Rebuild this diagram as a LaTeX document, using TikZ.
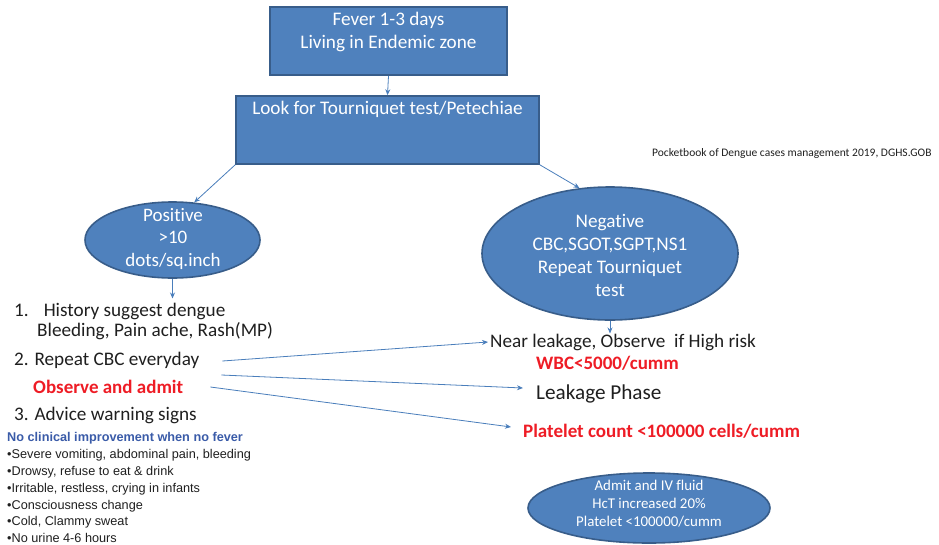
\documentclass[tikz,border=0pt]{standalone}
\usepackage{fontspec}
\setmainfont{Carlito}[Ligatures=NoCommon]
\newfontfamily\arialfont{Liberation Sans}
\usetikzlibrary{arrows.meta,shapes.geometric}
\definecolor{boxfill}{HTML}{4F81BD}
\definecolor{boxline}{HTML}{385D8A}
\definecolor{arrowblue}{HTML}{4A7EBB}
\definecolor{alertred}{HTML}{EE1C25}
\definecolor{noteblue}{HTML}{3A5BA8}
\definecolor{ink}{HTML}{1F1F1F}
\begin{document}
\begin{tikzpicture}[x=1pt,y=-1pt,
  box/.style={draw=boxline, line width=1.6pt, fill=boxfill, inner sep=0},
  oval/.style={ellipse, draw=boxline, line width=1.6pt, fill=boxfill, inner sep=0},
  wtext/.style={text=white, align=center, inner sep=0},
  ltext/.style={text=ink, inner sep=0, anchor=west, font=\fontsize{19.2}{23}\selectfont},
  redtext/.style={text=alertred, inner sep=0, anchor=west, font=\fontsize{19}{22}\selectfont\bfseries},
  flow/.style={draw=arrowblue, line width=0.8pt, -{Stealth[length=6pt,width=5pt]}},
]
\useasboundingbox (0,0) rectangle (939,544);

% top boxes
\node[box, minimum width=237pt, minimum height=68pt] (fever) at (388.5,41) {};
\node[wtext, font=\fontsize{19.2}{23}\selectfont] (fevertxt) at (388.5,32) {Fever 1-3 days\\Living in Endemic zone};
\node[box, minimum width=303pt, minimum height=68pt] (look) at (387.5,130) {};
\node[wtext, font=\fontsize{19.2}{23}\selectfont] (looktxt) at (387.5,109) {Look for Tourniquet test/Petechiae};

% source note
\node[text=ink, inner sep=0, anchor=west, font=\fontsize{11.5}{14}\selectfont] (cite) at (652,153) {Pocketbook of Dengue cases management 2019, DGHS.GOB};

% ellipses
\node[oval, minimum width=175pt, minimum height=76pt] (pos) at (172.5,240) {};
\node[wtext, font=\fontsize{19}{22.5}\selectfont] (postxt) at (173,238.5) {Positive\\>10\\dots/sq.inch};
\node[oval, minimum width=256pt, minimum height=133pt] (neg) at (610,253.5) {};
\node[wtext, font=\fontsize{19.2}{23}\selectfont] (negtxt) at (610,255.5) {Negative\\CBC,SGOT,SGPT,NS1\\Repeat Tourniquet\\test};
\node[oval, minimum width=242pt, minimum height=70pt] (admit) at (649,508) {};
\node[wtext, font=\fontsize{14.9}{18}\selectfont] (admittxt) at (649,504) {Admit and IV fluid\\HcT increased 20\%\\Platelet <100000/cumm};

% left column
\node[ltext] (hist) at (14,311) {1.\hspace{15pt}History suggest dengue};
\node[ltext] (bleed) at (37,331) {Bleeding, Pain ache, Rash(MP)};
\node[ltext] (cbc) at (14,360) {2. Repeat CBC everyday};
\node[redtext] (obs) at (33,387) {Observe and admit};
\node[ltext] (advice) at (14,415) {3. Advice warning signs};
\node[text=ink, inner sep=0, anchor=north west, align=left, font=\arialfont\fontsize{12.7}{16.8}\selectfont] (signs) at (7,432.5)
  {{\color{noteblue}\bfseries No clinical improvement when no fever}\\
   •Severe vomiting, abdominal pain, bleeding\\
   •Drowsy, refuse to eat \& drink\\
   •Irritable, restless, crying in infants\\
   •Consciousness change\\
   •Cold, Clammy sweat\\
   •No urine 4-6 hours};

% right column
\node[ltext] (near) at (490,342) {Near leakage, Observe~ if High risk};
\node[redtext] (wbc) at (536,363) {WBC<5000/cumm};
\node[ltext, font=\fontsize{21.2}{25}\selectfont] (leak) at (536,394) {Leakage Phase};
\node[redtext] (plt) at (523,431) {Platelet count <100000 cells/cumm};

% connectors
\draw[flow] (fever.south) -- (look.north);
\draw[flow] (look.south west) -- (pos.60);
\draw[flow] (look.south east) -- (neg.115);
\draw[flow, shorten >=4pt] (pos.south) -- (pos.south |- hist.north);
\draw[flow] (neg.south) -- (neg.south |- near.north);
\draw[flow] ([xshift=23pt,yshift=-1pt]cbc.east) -- ([xshift=-2pt]near.west);
\draw[flow] ([xshift=22pt,yshift=-15pt]cbc.east) -- ([xshift=-13pt,yshift=6pt]leak.west);
\draw[flow] ([xshift=27pt]obs.east) -- ([xshift=-12pt,yshift=4pt]plt.west);
\end{tikzpicture}
\end{document}
